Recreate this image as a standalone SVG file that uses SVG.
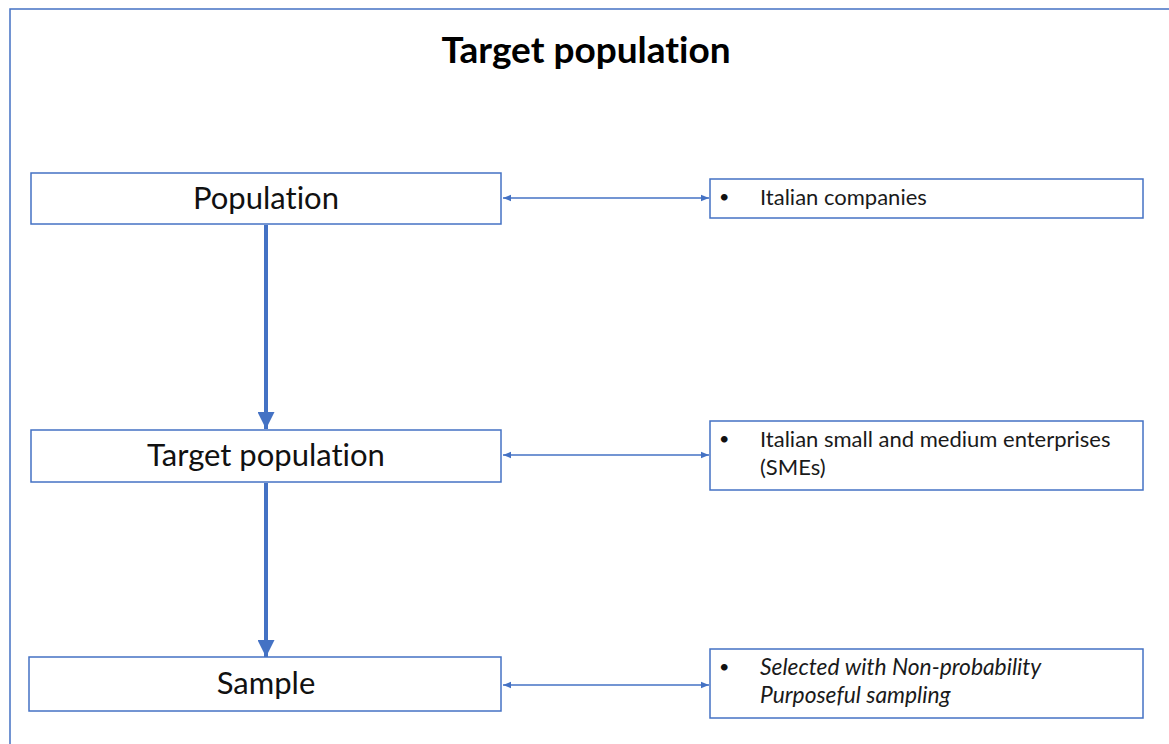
<svg xmlns="http://www.w3.org/2000/svg" width="1169" height="744" viewBox="0 0 1169 744">
  <defs>
    <style>
      text { font-variant-ligatures: none; font-feature-settings: "liga" 0, "dlig" 0; }
      .box { fill: #ffffff; stroke: #4472c4; stroke-width: 1.5; }
      .frame { fill: #ffffff; stroke: #4472c4; stroke-width: 1.5; }
      .lbl { font-family: "Lato", "Liberation Sans", sans-serif; font-size: 31px; fill: #111111; text-anchor: middle; }
      .note { font-family: "Lato", "Liberation Sans", sans-serif; font-size: 22px; fill: #1a1a1a; }
      .it { font-style: italic; font-size: 22.8px; }
      .bullet { font-family: "Lato", "Liberation Sans", sans-serif; font-size: 18px; fill: #111111; }
      .title { font-family: "Lato", "Liberation Sans", sans-serif; font-size: 37px; font-weight: bold; fill: #000000; text-anchor: middle; }
      .thin { stroke: #4472c4; stroke-width: 1.5; fill: none; }
      .thick { stroke: #4472c4; stroke-width: 4; fill: none; }
    </style>
    <marker id="small" viewBox="0 0 10 10" refX="10" refY="5" markerWidth="8" markerHeight="8" markerUnits="userSpaceOnUse" orient="auto-start-reverse">
      <path d="M0,1 L10,5 L0,9 Z" fill="#4472c4"/>
    </marker>
    <marker id="big" viewBox="0 0 10 10" refX="10" refY="5" markerWidth="17" markerHeight="17" markerUnits="userSpaceOnUse" orient="auto">
      <path d="M0,0 L10,5 L0,10 Z" fill="#4472c4"/>
    </marker>
  </defs>

  <rect width="1169" height="744" fill="#ffffff"/>
  <!-- outer frame, running off the right and bottom edges -->
  <rect class="frame" x="10" y="9" width="1170" height="760"/>

  <text class="title" x="586" y="63">Target population</text>

  <g id="connectors">
    <line class="thick" x1="266" y1="225" x2="266" y2="429" marker-end="url(#big)"/>
    <line class="thick" x1="266" y1="483" x2="266" y2="657" marker-end="url(#big)"/>
    <line class="thin" x1="503" y1="198" x2="709" y2="198" marker-start="url(#small)" marker-end="url(#small)"/>
    <line class="thin" x1="503" y1="455" x2="709" y2="455" marker-start="url(#small)" marker-end="url(#small)"/>
    <line class="thin" x1="503" y1="685" x2="709" y2="685" marker-start="url(#small)" marker-end="url(#small)"/>
  </g>

  <g id="population">
    <rect class="box" x="31" y="173" width="470" height="51"/>
    <text class="lbl" x="266" y="209">Population</text>
  </g>
  <g id="target-population">
    <rect class="box" x="31" y="430" width="470" height="52"/>
    <text class="lbl" x="266" y="466">Target population</text>
  </g>
  <g id="sample">
    <rect class="box" x="29" y="657" width="472" height="54"/>
    <text class="lbl" x="266" y="694">Sample</text>
  </g>

  <g id="note-companies">
    <rect class="box" x="710" y="179" width="433" height="39"/>
    <text class="bullet" x="719" y="203">•</text>
    <text class="note" x="760" y="205">Italian companies</text>
  </g>
  <g id="note-smes">
    <rect class="box" x="710" y="421" width="433" height="69"/>
    <text class="bullet" x="719" y="445">•</text>
    <text class="note" x="760" y="447">Italian small and medium enterprises</text>
    <text class="note" x="760" y="475">(SMEs)</text>
  </g>
  <g id="note-sampling">
    <rect class="box" x="710" y="649" width="433" height="69"/>
    <text class="bullet" x="719" y="673">•</text>
    <text class="note it" x="760" y="675">Selected with Non-probability</text>
    <text class="note it" x="760" y="703">Purposeful sampling</text>
  </g>
</svg>
